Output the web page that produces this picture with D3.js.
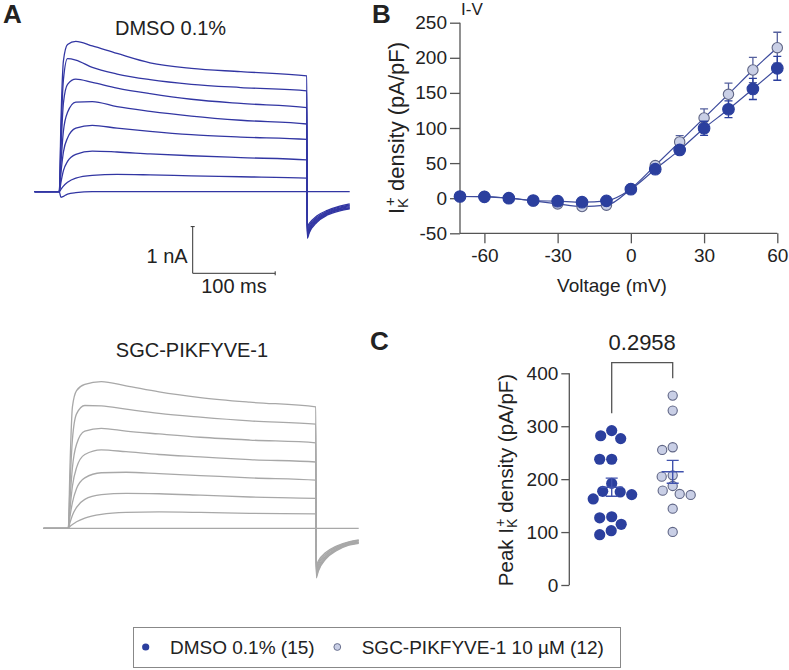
<!DOCTYPE html>
<html><head><meta charset="utf-8">
<script src="https://cdn.jsdelivr.net/npm/d3@7"></script>
<style>body{margin:0;background:#fff} text{font-family:"Liberation Sans",Arial,sans-serif;fill:#222}</style>
</head><body><svg id="c" width="789" height="670"></svg>
<script>
// ---------- DATA ----------
const voltages   = [-70,-60,-50,-40,-30,-20,-10,0,10,20,30,40,50,60];
const ivDMSO     = [2.4,1.9,0,-3.3,-4.3,-5.7,-3.8,12.8,41.3,68.8,99.6,126.7,155.6,185];
const ivDMSOsem  = [1,1,1,1,1.5,2,2,2,3,6,10,12,15,17];
const ivSGC      = [2.4,2.4,0,-3.8,-8.1,-11.9,-10,13.3,46.5,80.2,114.3,148,182.6,214.4];
const ivSGCsem   = [1,1,1,1,2,2,2,2,3,9,13,16,18,22];
const ivYTicks   = [-50,0,50,100,150,200,250];
const ivXTicks   = [-60,-30,0,30,60];

const peakDMSO   = [291.7,282,276.6,237.6,237.6,192,177,175.8,170.8,162.6,129,127,114.7,102.6,95];
const peakSGC    = [357.9,329.5,260.3,255.2,207.3,204.7,187.1,178.3,172,170.1,144.2,100.2];
const peakTicks  = [0,100,200,300,400];
const pValue     = "0.2958";
const groups     = ["DMSO 0.1% (15)","SGC-PIKFYVE-1 10 µM (12)"];

// current traces (nA) sampled at step times (ms)
const preTime    = -30;
const stepTimes  = [0,2,5,10,20,40,70,110,160,220,300];
const tailTimes  = [300.5,303,312,325,340,352];
const dmsoSweeps = [
  [0,1.5,2.8,3.15,3.22,3.12,2.96,2.76,2.64,2.57,2.48],
  [0,1.2,2.4,2.85,2.82,2.66,2.52,2.40,2.30,2.23,2.16],
  [0,0.9,1.9,2.3,2.41,2.34,2.22,2.10,1.98,1.89,1.80],
  [0,0.6,1.3,1.7,1.92,1.93,1.82,1.72,1.62,1.53,1.45],
  [0,0.4,0.85,1.15,1.36,1.42,1.36,1.29,1.22,1.17,1.12],
  [0,0.2,0.45,0.65,0.80,0.87,0.85,0.81,0.77,0.73,0.68],
  [0,0.05,0.12,0.2,0.29,0.35,0.37,0.36,0.34,0.32,0.29],
  [0,-0.12,-0.1,-0.05,-0.02,0,0,0,0,0,0]
];
const dmsoTails = [
  [-1.0,-0.88,-0.66,-0.50,-0.41,-0.37],
  [-0.97,-0.85,-0.64,-0.48,-0.39,-0.35],
  [-0.94,-0.82,-0.62,-0.47,-0.38,-0.34],
  [-0.90,-0.79,-0.60,-0.46,-0.36,-0.32],
  [-0.86,-0.76,-0.58,-0.44,-0.35,-0.30],
  [-0.81,-0.72,-0.55,-0.42,-0.33,-0.28],
  [-0.75,-0.68,-0.52,-0.40,-0.31,-0.26],
  [0,0,0,0,0,0]
];
const sgcSweeps = [
  [0,1.3,2.6,2.95,3.08,3.14,3.05,2.92,2.80,2.70,2.60],
  [0,0.9,1.9,2.45,2.63,2.62,2.55,2.46,2.38,2.30,2.23],
  [0,0.6,1.3,1.8,2.08,2.14,2.08,2.02,1.95,1.89,1.83],
  [0,0.4,0.9,1.3,1.58,1.68,1.64,1.58,1.53,1.47,1.42],
  [0,0.25,0.55,0.85,1.08,1.19,1.2,1.17,1.13,1.08,1.03],
  [0,0.12,0.28,0.45,0.62,0.72,0.75,0.74,0.71,0.67,0.64],
  [0,0.04,0.08,0.14,0.22,0.3,0.34,0.35,0.34,0.32,0.31],
  [0,0,0,0,0,0,0,0,0,0,0]
];
const sgcTails = [
  [-1.06,-0.92,-0.66,-0.48,-0.36,-0.32],
  [-1.02,-0.89,-0.64,-0.46,-0.35,-0.31],
  [-0.98,-0.86,-0.62,-0.45,-0.34,-0.30],
  [-0.94,-0.82,-0.60,-0.43,-0.33,-0.29],
  [-0.90,-0.78,-0.57,-0.41,-0.32,-0.27],
  [-0.85,-0.74,-0.55,-0.40,-0.30,-0.26],
  [-0.80,-0.70,-0.52,-0.38,-0.29,-0.25],
  [0,0,0,0,0,0]
];

// ---------- STYLE ----------
const blueTrace = "#3236a3", grayTrace = "#a8a8a8";
const darkDot = "#2b3f9e", lightFill = "#c9cfe6", lightStroke = "#5f6585";
const axisCol = "#555", lineCol = "#3d4b9c";
const fmt = d => String(d);

const svg = d3.select("#c");

function label(x,y,t,size,bold){
  svg.append("text").attr("x",x).attr("y",y).text(t)
    .style("font-size",size+"px").style("font-weight",bold?"bold":"normal");
}
label(3,23,"A",26,true);
label(372,23,"B",26,true);
label(370,350,"C",26,true);

// ---------- PANEL A ----------
function traces(x0,x1,yBase,sweeps,tails,color){
  const x = d3.scaleLinear().domain([0,300]).range([x0,x1]);
  const y = d3.scaleLinear().domain([0,1]).range([yBase,yBase-46.7]);
  const line = d3.line().x(d=>x(d[0])).y(d=>y(d[1])).curve(d3.curveMonotoneX);
  const g = svg.append("g");
  sweeps.forEach((s,i)=>{
    const pts = [[preTime,0]].concat(stepTimes.map((t,j)=>[t,s[j]]), tailTimes.map((t,j)=>[t,tails[i][j]]));
    g.append("path").attr("d",line(pts)).attr("fill","none")
      .attr("stroke",color).attr("stroke-width",1.3);
  });
  return {x,y};
}
const aD = traces(59.3,306.8,191.7,dmsoSweeps,dmsoTails,blueTrace);
const aS = traces(68.3,315.8,528.3,sgcSweeps,sgcTails,grayTrace);
label(171-56,35,"DMSO 0.1%",20,false);
svg.append("text").attr("x",192).attr("y",357).attr("text-anchor","middle")
  .text("SGC-PIKFYVE-1").style("font-size","20px");

// scale bar
{
  const cx = 192.7, cy = 273.3;
  const len100 = aD.x(100)-aD.x(0), len1 = aD.y(0)-aD.y(1);
  const g = svg.append("g").attr("stroke","#333").attr("stroke-width",1).attr("fill","none");
  g.append("path").attr("d",`M${cx},${cy-len1}V${cy}H${cx+len100}`);
  g.append("path").attr("d",`M${cx-2},${cy-len1}H${cx+2}M${cx+len100},${cy-2}V${cy+2}`);
  svg.append("text").attr("x",cx-5).attr("y",263).attr("text-anchor","end").text("1 nA").style("font-size","20px");
  svg.append("text").attr("x",cx+len100/2).attr("y",293).attr("text-anchor","middle").text("100 ms").style("font-size","20px");
}

// ---------- PANEL B ----------
{
  const x = d3.scaleLinear().domain([-70,60]).range([460,777.3]);
  const y = d3.scaleLinear().domain([-50,250]).range([233.3,22.7]);
  const g = svg.append("g");
  const ya = g.append("g").attr("transform","translate(460,0)")
    .call(d3.axisLeft(y).tickValues(ivYTicks).tickFormat(fmt).tickSize(10).tickSizeOuter(0).tickPadding(3));
  const xa = g.append("g").attr("transform","translate(0,233.3)")
    .call(d3.axisBottom(x).tickValues(ivXTicks).tickFormat(fmt).tickSize(10).tickSizeOuter(0).tickPadding(5));
  [ya,xa].forEach(a=>{
    a.selectAll("path,line").attr("stroke",axisCol).attr("stroke-width",1.3);
    a.selectAll("text").style("font-size","19px").style("fill","#222").style("font-family","Liberation Sans, Arial, sans-serif");
  });
  xa.select(".domain").attr("d","M460,0H777.3");
  ya.select(".domain").attr("d","M0,233.3V22.7");

  const line = d3.line().x((d,i)=>x(voltages[i])).y(d=>y(d)).curve(d3.curveMonotoneX);
  const series = [
    {v:ivSGC,e:ivSGCsem,fill:lightFill,stroke:lightStroke,bar:"#55609e",r:5.2},
    {v:ivDMSO,e:ivDMSOsem,fill:darkDot,stroke:darkDot,bar:"#2b3f9e",r:5.8}
  ];
  series.forEach(s=>{
    g.append("path").attr("d",line(s.v)).attr("fill","none").attr("stroke",lineCol).attr("stroke-width",1.2);
  });
  series.forEach(s=>{
    const eb = g.append("g").attr("stroke",s.bar).attr("stroke-width",1.3);
    s.v.forEach((v,i)=>{
      const xx = x(voltages[i]);
      eb.append("path").attr("d",`M${xx},${y(v-s.e[i])}V${y(v+s.e[i])}M${xx-4},${y(v+s.e[i])}H${xx+4}M${xx-4},${y(v-s.e[i])}H${xx+4}`);
    });
    g.selectAll(null).data(s.v).enter().append("circle")
      .attr("cx",(d,i)=>x(voltages[i])).attr("cy",d=>y(d)).attr("r",s.r)
      .attr("fill",s.fill).attr("stroke",s.stroke).attr("stroke-width",1.1);
  });
  svg.append("text").attr("x",461).attr("y",15).text("I-V").style("font-size","17px");
  svg.append("text").attr("x",612).attr("y",292).attr("text-anchor","middle").text("Voltage (mV)").style("font-size","19px");
  const yl = svg.append("text").attr("transform","translate(404,128) rotate(-90)").attr("text-anchor","middle").style("font-size","22px");
  yl.append("tspan").text("I");
  yl.append("tspan").text("K").attr("baseline-shift","-25%").style("font-size","15px");
  yl.append("tspan").text("+").attr("baseline-shift","60%").attr("dx","-8").style("font-size","15px");
  yl.append("tspan").text(" density (pA/pF)");
}

// ---------- PANEL C ----------
{
  const y = d3.scaleLinear().domain([0,400]).range([585,373.3]);
  const ya = svg.append("g").attr("transform","translate(569.3,0)")
    .call(d3.axisLeft(y).tickValues(peakTicks).tickFormat(fmt).tickSize(8).tickSizeOuter(0).tickPadding(3));
  ya.selectAll("path,line").attr("stroke",axisCol).attr("stroke-width",1.3);
  ya.selectAll("text").style("font-size","19px").style("fill","#222").style("font-family","Liberation Sans, Arial, sans-serif");
  ya.select(".domain").attr("d","M0,585V373.3");

  function swarm(vals,r,cx){
    const placed=[], out=new Array(vals.length);
    const order = vals.map((v,i)=>i).sort((a,b)=>vals[b]-vals[a]);
    for(const i of order){
      const py=y(vals[i]); let best=null;
      for(let k=0;k<400 && best===null;k++){
        const offs = k===0?[0]:[-k*0.5,k*0.5];
        for(const o of offs){ if(placed.every(p=>Math.hypot(p.x-o,p.y-py)>=2*r+0.6)){best=o;break;} }
      }
      placed.push({x:best,y:py}); out[i]={x:cx+best,y:py};
    }
    return out;
  }
  const cD = 611.7, cS = 672.7;
  const pD = swarm(peakDMSO,5.6,cD), pS = swarm(peakSGC,5.0,cS);
  svg.selectAll(null).data(pD).enter().append("circle").attr("cx",d=>d.x).attr("cy",d=>d.y).attr("r",5.6).attr("fill",darkDot);
  svg.selectAll(null).data(pS).enter().append("circle").attr("cx",d=>d.x).attr("cy",d=>d.y).attr("r",4.6)
    .attr("fill",lightFill).attr("stroke",lightStroke).attr("stroke-width",1.1);
  [[peakDMSO,cD],[peakSGC,cS]].forEach(([v,c])=>{
    const m=d3.mean(v), se=d3.deviation(v)/Math.sqrt(v.length);
    svg.append("path").attr("d",`M${c-11},${y(m)}H${c+11}M${c},${y(m-se)}V${y(m+se)}M${c-6},${y(m+se)}H${c+6}M${c-6},${y(m-se)}H${c+6}`)
      .attr("stroke","#4052ad").attr("stroke-width",1.4).attr("fill","none");
  });
  svg.append("path").attr("d",`M${cD},413.3V362.7H${cS}V378.3`).attr("stroke",axisCol).attr("stroke-width",1.3).attr("fill","none");
  svg.append("text").attr("x",(cD+cS)/2).attr("y",350).attr("text-anchor","middle").text(pValue).style("font-size","22px");
  const yl = svg.append("text").attr("transform","translate(513,480) rotate(-90)").attr("text-anchor","middle").style("font-size","20.5px");
  yl.append("tspan").text("Peak I");
  yl.append("tspan").text("K").attr("baseline-shift","-25%").style("font-size","14px");
  yl.append("tspan").text("+").attr("baseline-shift","60%").attr("dx","-8").style("font-size","14px");
  yl.append("tspan").text(" density (pA/pF)");
}

// ---------- LEGEND ----------
{
  svg.append("rect").attr("x",133.5).attr("y",627.5).attr("width",487).attr("height",40)
    .attr("fill","#fff").attr("stroke","#888").attr("stroke-width",1);
  svg.append("circle").attr("cx",145.7).attr("cy",647).attr("r",3.6).attr("fill",darkDot);
  svg.append("text").attr("x",170).attr("y",654).text(groups[0]).style("font-size","19px");
  svg.append("circle").attr("cx",337.3).attr("cy",647).attr("r",3.4).attr("fill",lightFill).attr("stroke",lightStroke).attr("stroke-width",0.9);
  svg.append("text").attr("x",361.7).attr("y",654).text(groups[1]).style("font-size","19px");
}
</script></body></html>
